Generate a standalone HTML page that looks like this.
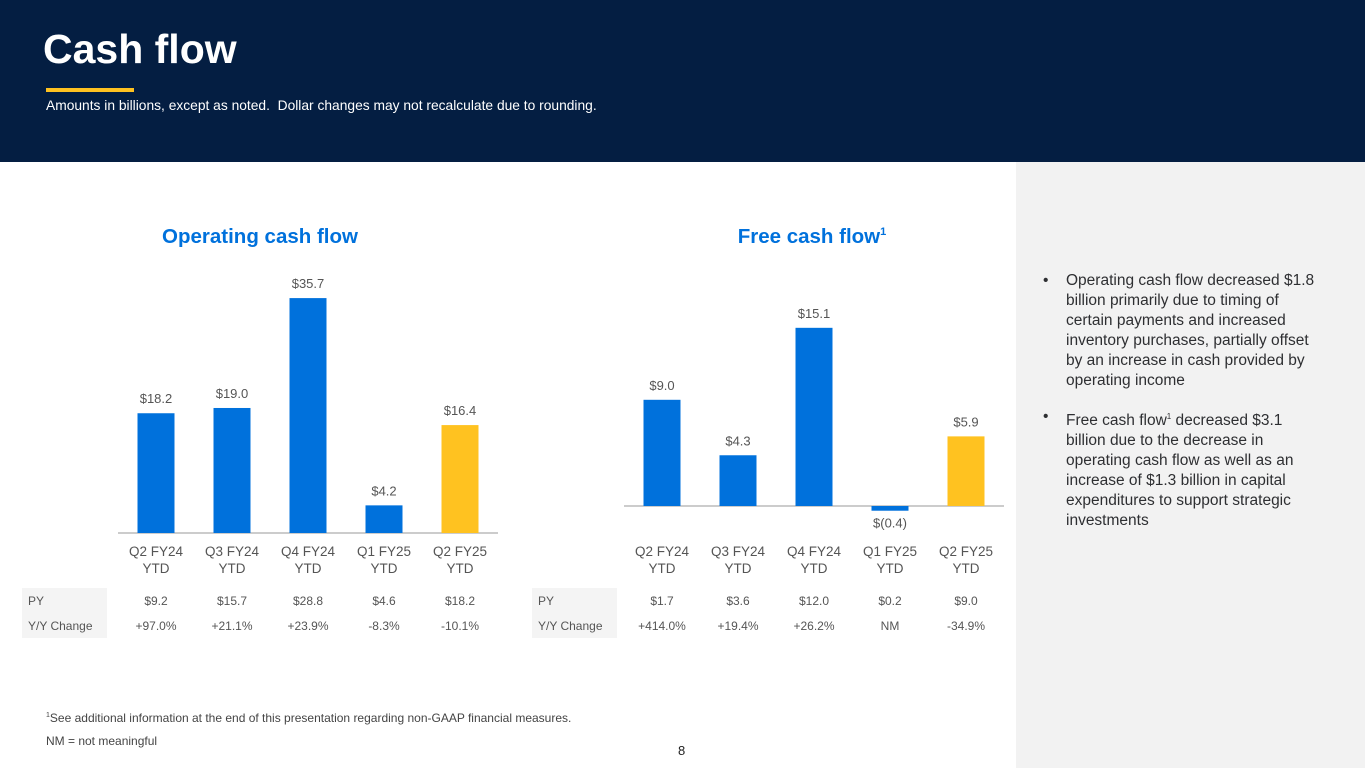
<!DOCTYPE html>
<html><head><meta charset="utf-8"><style>
body{margin:0;width:1365px;height:768px;position:relative;overflow:hidden;background:#fff;font-family:"Liberation Sans",sans-serif;}
.abs{position:absolute;}
.hdr{left:0;top:0;width:1365px;height:162px;background:#041e42;}
.side{left:1016px;top:162px;width:349px;height:606px;background:#f2f2f2;}
.ttl{font-weight:bold;font-size:20.5px;color:#0071dc;text-align:center;width:300px;}
.bul{left:1066px;width:252px;font-size:15.5px;color:#2e2f32;line-height:20px;}
.bul span.d{position:absolute;left:-23px;}
</style></head><body>
<div class="abs hdr"></div>
<div class="abs" style="left:43px;top:26px;font-size:41px;font-weight:bold;color:#fff;">Cash flow</div>
<div class="abs" style="left:46px;top:88px;width:88px;height:4px;background:#ffc220;"></div>
<div class="abs" style="left:46px;top:98px;font-size:13.8px;color:#fff;">Amounts in billions, except as noted.&nbsp; Dollar changes may not recalculate due to rounding.</div>
<div class="abs side"></div>
<div class="abs bul" style="top:271px;"><span class="d">•</span>Operating cash flow decreased $1.8 billion primarily due to timing of certain payments and increased inventory purchases, partially offset by an increase in cash provided by operating income</div>
<div class="abs bul" style="top:407px;"><span class="d">•</span>Free cash flow<sup style="font-size:8px">1</sup> decreased $3.1 billion due to the decrease in operating cash flow as well as an increase of $1.3 billion in capital expenditures to support strategic investments</div>
<div class="abs ttl" style="left:110px;top:225px;">Operating cash flow</div>
<div class="abs ttl" style="left:662px;top:225px;">Free cash flow<sup style="font-size:11px">1</sup></div>
<svg class="abs" style="left:0;top:0" width="1016" height="768" id="svg"></svg>
<div class="abs" style="left:46px;top:711px;font-size:12px;color:#444;"><sup style="font-size:7px">1</sup>See additional information at the end of this presentation regarding non-GAAP financial measures.</div>
<div class="abs" style="left:46px;top:734px;font-size:12px;color:#444;">NM = not meaningful</div>
<div class="abs" style="left:678px;top:743px;font-size:13px;color:#222;">8</div>
<script>
const categories=["Q2 FY24","Q3 FY24","Q4 FY24","Q1 FY25","Q2 FY25"];
const ocfValues=[18.2,19.0,35.7,4.2,16.4];
const ocfLabels=["$18.2","$19.0","$35.7","$4.2","$16.4"];
const ocfPY=["$9.2","$15.7","$28.8","$4.6","$18.2"];
const ocfYoY=["+97.0%","+21.1%","+23.9%","-8.3%","-10.1%"];
const fcfValues=[9.0,4.3,15.1,-0.4,5.9];
const fcfLabels=["$9.0","$4.3","$15.1","$(0.4)","$5.9"];
const fcfPY=["$1.7","$3.6","$12.0","$0.2","$9.0"];
const fcfYoY=["+414.0%","+19.4%","+26.2%","NM","-34.9%"];
const svg=document.getElementById('svg');const NS='http://www.w3.org/2000/svg';
function mk(t,a,txt){const e=document.createElementNS(NS,t);for(const k in a)e.setAttribute(k,a[k]);if(txt!=null)e.textContent=txt;svg.appendChild(e);return e;}
function chart(id,x0,x1,base,scale,vals,labels,py,yoy,tx0){
 const step=(x1-x0)/5;const bw=37;
 const xs=i=>x0+step*(i+0.5);const ys=v=>base-v*scale;
 let l=mk('line',{x1:x0,x2:x1,y1:base,y2:base,stroke:'#999','stroke-width':1});
 
 
 vals.forEach((v,i)=>{
  const top=Math.min(ys(v),base),h=Math.abs(ys(v)-base);
  const r=mk('rect',{x:xs(i)-bw/2,y:top,width:bw,height:h,fill:i==4?'#ffc220':'#0071dc'});
  
  
  const ly=v>=0?ys(v)-10:base+h+17;
  const t=mk('text',{x:xs(i),y:ly,'text-anchor':'middle','font-size':13,fill:'#555'},labels[i]);
  
  
  const c1=mk('text',{x:xs(i),y:556,'text-anchor':'middle','font-size':13.5,fill:'#555'},categories[i]);
  
  
  const c2=mk('text',{x:xs(i),y:573,'text-anchor':'middle','font-size':13.5,fill:'#555'},'YTD');
  
  
  const p=mk('text',{x:xs(i),y:605,'text-anchor':'middle','font-size':12,fill:'#555'},py[i]);
  
  
  const y=mk('text',{x:xs(i),y:630,'text-anchor':'middle','font-size':12,fill:'#555'},yoy[i]);
  
  
 });
 const bg=mk('rect',{x:tx0,y:588,width:85,height:50,fill:'#f4f4f4'});
 
 
 const a=mk('text',{x:tx0+6,y:605,'font-size':12,fill:'#555'},'PY');
 
 
 const b=mk('text',{x:tx0+6,y:630,'font-size':12,fill:'#555'},'Y/Y Change');
 
 
}
chart('ocf',118,498,533,6.58,ocfValues,ocfLabels,ocfPY,ocfYoY,22);
chart('fcf',624,1004,506,11.8,fcfValues,fcfLabels,fcfPY,fcfYoY,532);
</script>
</body></html>
